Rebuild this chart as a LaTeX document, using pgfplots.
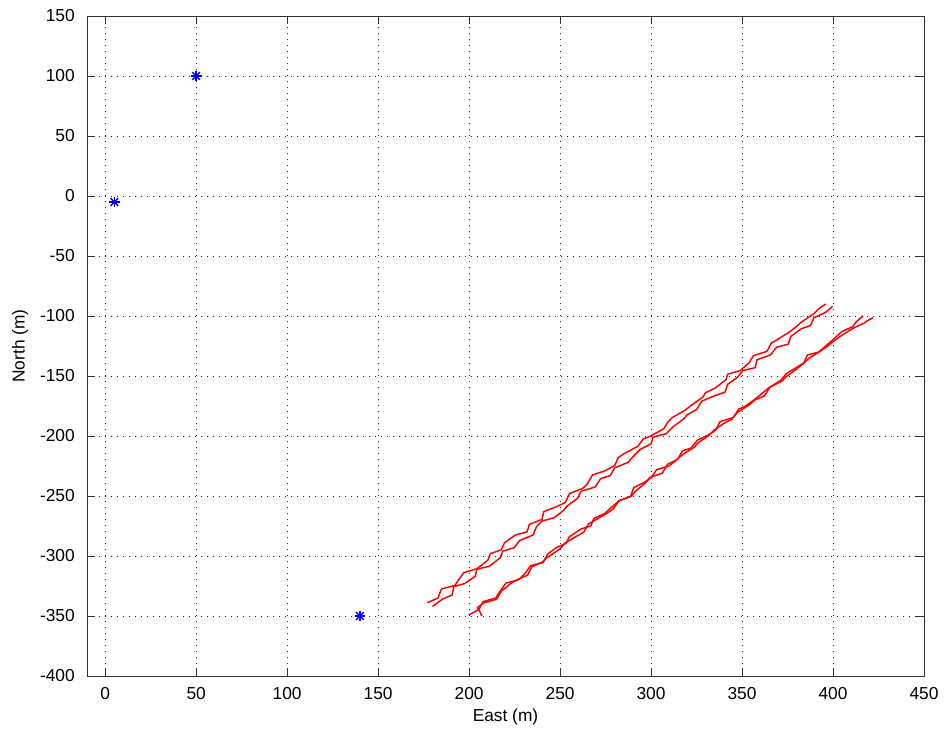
\documentclass[border=0pt]{standalone}
\usepackage{fontspec}
\setmainfont{Liberation Sans}
\usepackage{pgfplots}
\pgfplotsset{compat=1.18}
\begin{document}
\fontsize{13pt}{15pt}\selectfont
\begin{tikzpicture}
\useasboundingbox (-65.25pt,-42pt) rectangle (645pt,507pt);
\begin{axis}[
  scale only axis, width=627.75pt, height=495pt,
  xmin=-10, xmax=450, ymin=-400, ymax=150,
  xtick={0,50,...,450}, ytick={-400,-350,...,150},
  tick align=inside, major tick length=6.3pt,
  grid=major,
  major grid style={black!85, line width=0.6pt, dash pattern=on 0.6pt off 3.9pt},
  axis line style={line width=0.6pt, black!80},
  every tick/.style={black!80, line width=0.6pt},
  /pgf/number format/assume math mode=true,
  ticklabel style={font=\fontsize{13pt}{15pt}\selectfont},
  xticklabel style={anchor=base, yshift=-17.5pt, inner sep=0pt},
  yticklabel style={anchor=east, xshift=-9pt, inner sep=0pt},
  xlabel={East (m)}, ylabel={North (m)},
  label style={font=\fontsize{13pt}{15pt}\selectfont},
  xlabel style={at={(axis description cs:0.5,-0.0682)}, anchor=base, inner sep=0pt},
  ylabel style={at={(axis description cs:-0.080,0.5)}, anchor=center, inner sep=0pt},
]
% upper pair
\addplot[red, line width=1.1pt, line join=round] coordinates {
(177.0,-339) (182.9,-335) (184.8,-327.5) (192.2,-324.5) (195.1,-318) (197.0,-314)
(204.4,-310.5) (210.3,-303.5) (211.7,-298) (217.6,-295) (219.5,-289) (225.4,-282.5)
(231.8,-280) (233.2,-273.5) (240.1,-269.5) (241.0,-263) (247.9,-259) (252.8,-255.5)
(255.2,-248) (262.6,-243.5) (265.0,-240) (267.8,-232.5) (274.7,-229) (280.1,-224.5)
(282.0,-218) (284.9,-215) (292.8,-208.5) (295.7,-202.5) (299.1,-200.5) (307.0,-194)
(309.4,-188) (311.8,-184.5) (318.7,-178.5) (321.6,-175) (328.5,-167.5) (329.9,-164)
(335.3,-160) (341.2,-153) (342.1,-148.5) (349.0,-145.5) (353.9,-139) (356.3,-133)
(363.7,-129.5) (366.1,-122.5) (369.0,-120) (375.9,-113.5) (379.8,-109) (382.7,-105)
(389.6,-98) (392.5,-93.5) (396.0,-90)
};
\addplot[red, line width=1.1pt, line join=round] coordinates {
(179.9,-342) (185.3,-336) (190.7,-332.5) (191.6,-325.5) (197.5,-323) (203.4,-317)
(204.3,-311) (211.2,-308.5) (217.1,-301.5) (218.5,-296) (224.9,-293) (227.8,-287)
(235.2,-282.5) (237.1,-275.5) (240.0,-271) (246.9,-268) (252.3,-261.5) (253.7,-258.5)
(259.6,-252) (261.5,-246) (269.4,-242.5) (272.3,-235.5) (277.6,-233) (280.0,-226.5)
(287.4,-222) (289.3,-218.5) (294.2,-211) (300.1,-206.5) (301.0,-201) (308.4,-198)
(312.3,-192) (318.2,-185.5) (319.6,-182.5) (325.0,-178) (327.9,-171) (334.8,-166.5)
(340.7,-163.5) (342.1,-157) (347.5,-151) (350.4,-145.5) (357.3,-143) (358.2,-136.5)
(365.6,-132.5) (369.0,-126) (375.4,-123.5) (376.8,-117) (382.7,-110.5) (387.6,-108)
(389.5,-101.5) (395.9,-97) (399.8,-92)
};
% lower pair
\addplot[red, line width=1.1pt, line join=round] coordinates {
(200.0,-349) (205.4,-344.5) (207.7,-338) (214.6,-335) (217.4,-328.5) (220.3,-322.5)
(227.1,-320) (231.0,-314) (233.9,-308) (240.7,-305.5) (243.1,-298.5) (247.9,-293)
(253.3,-289.5) (255.1,-284) (261.5,-277.5) (266.9,-275) (268.7,-268.5) (274.1,-265)
(279.4,-258) (282.3,-254) (288.7,-250.5) (290.5,-243) (296.4,-238.5) (300.2,-234.5)
(303.1,-228) (309.9,-225) (314.8,-219) (317.2,-212.5) (322.0,-210) (325.4,-203.5)
(331.7,-199) (335.6,-195) (337.9,-188) (345.3,-184.5) (348.2,-177.5) (351.5,-175.5)
(357.4,-169) (362.2,-163) (364.6,-160) (371.4,-153.5) (374.3,-148) (378.2,-144.5)
(384.0,-139) (385.9,-132.5) (392.2,-130) (397.1,-123.5) (399.4,-120.5) (404.8,-113)
(410.7,-109) (413.0,-104.5) (416.5,-100)
};
\addplot[red, line width=1.1pt, line join=round] coordinates {
(207.0,-350) (205.8,-346) (204.5,-343) (208.3,-339) (215.2,-336) (217.6,-329.5)
(222.4,-323.5) (225.3,-320.5) (232.1,-316) (234.5,-309) (240.3,-305) (242.7,-301.5)
(249.6,-294.5) (252.9,-289) (256.3,-286) (263.1,-280) (265.5,-273.5) (268.8,-270.5)
(275.7,-264.5) (279.1,-261) (282.4,-254) (289.3,-250) (291.1,-246.5) (297.0,-239)
(299.4,-234.5) (306.2,-231) (309.1,-223.5) (313.9,-220) (317.3,-215.5) (324.1,-209)
(325.5,-206) (331.9,-199.5) (334.7,-195) (341.1,-188.5) (344.4,-186) (347.3,-180.5)
(354.1,-174) (357.0,-170) (362.4,-166.5) (365.2,-159.5) (372.1,-154) (373.9,-151)
(379.3,-145) (384.6,-138.5) (386.5,-135.5) (392.9,-129.5) (396.2,-126) (402.1,-119)
(405.9,-115) (411.3,-110) (417.0,-106) (420.0,-103) (422.0,-101.5)
};
% stars (MATLAB-style 8-arm asterisk)
\addplot[only marks, blue, mark=+, mark size=4pt, mark options={line width=1.1pt}] coordinates {
(5,-5) (50,100) (140,-350)
};
\addplot[only marks, blue, mark=x, mark size=4pt, mark options={line width=1.1pt}] coordinates {
(5,-5) (50,100) (140,-350)
};
\end{axis}
\end{tikzpicture}
\end{document}
